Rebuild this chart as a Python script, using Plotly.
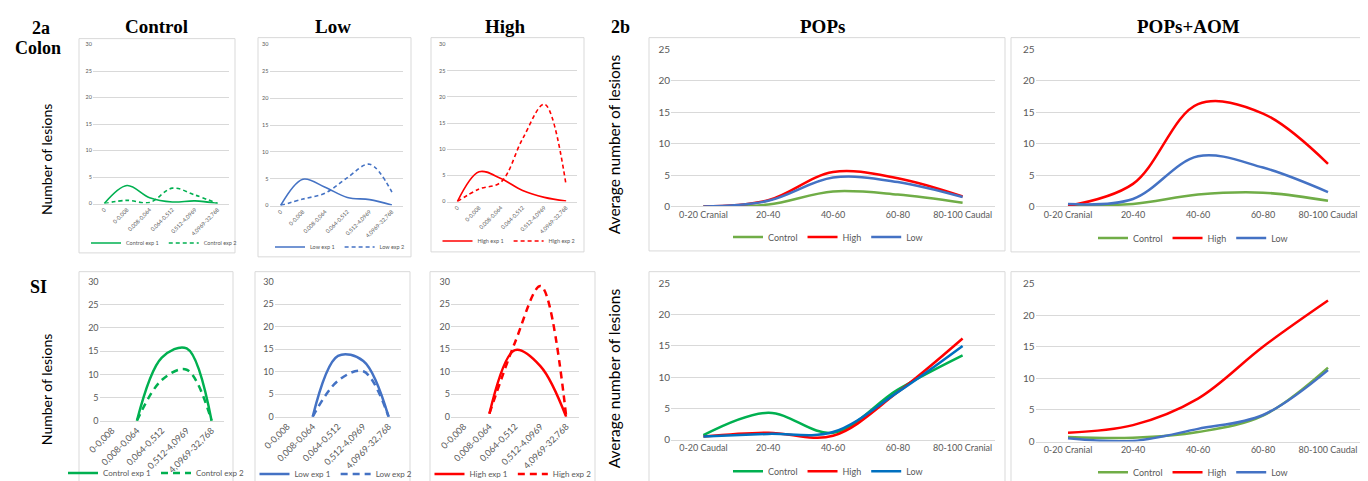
import plotly.graph_objects as go

W, H = 1368, 481

# ---------------- data ----------------
colon_cats = ["0", "0-0,008", "0,008-0,064", "0,064-0,512", "0,512-4,0969", "4,0969-32,768"]
si_cats = ["0-0,008", "0,008-0,064", "0,064-0,512", "0,512-4,0969", "4,0969-32,768"]
seg_cats_cranial_first = ["0-20 Cranial", "20-40", "40-60", "60-80", "80-100 Caudal"]
seg_cats_caudal_first = ["0-20 Caudal", "20-40", "40-60", "60-80", "80-100 Cranial"]

colon_control_exp1 = [0, 3.4, 1.1, 0.3, 0.5, 0]
colon_control_exp2 = [0, 0.6, 0.2, 2.9, 1.6, 0]
colon_low_exp1 = [0, 4.9, 3.4, 1.5, 1.1, 0.1]
colon_low_exp2 = [0, 1.2, 2.3, 5.2, 7.7, 2.5]
colon_high_exp1 = [0, 5.7, 4.4, 2.1, 0.8, 0.1]
colon_high_exp2 = [0, 2.4, 3.7, 12.0, 18.6, 3.1]

si_control_exp1 = [None, 0, 13.6, 15.6, 0]
si_control_exp2 = [None, 0, 8.8, 11.0, 0]
si_low_exp1 = [None, 0, 13.5, 12.4, 0]
si_low_exp2 = [None, 0, 8, 10.1, 0]
si_high_exp1 = [None, 0.7, 14.8, 11.2, 0]
si_high_exp2 = [None, 0.7, 16.5, 29.0, 0.1]

pops_colon_control = [0, 0.3, 2.4, 1.9, 0.6]
pops_colon_high = [0, 1.0, 5.5, 4.5, 1.6]
pops_colon_low = [0, 0.9, 4.6, 3.9, 1.5]

aom_colon_control = [0.2, 0.4, 1.9, 2.2, 0.9]
aom_colon_high = [0.1, 3.6, 16.3, 14.8, 6.8]
aom_colon_low = [0.4, 1.2, 8.0, 6.2, 2.3]

pops_si_control = [0.7, 4.3, 1.1, 8.0, 13.5]
pops_si_high = [0.5, 1.1, 0.6, 7.6, 16.2]
pops_si_low = [0.5, 0.9, 1.2, 7.6, 15.0]

aom_si_control = [0.7, 0.6, 1.5, 4.1, 11.7]
aom_si_high = [1.4, 2.6, 6.8, 15.0, 22.3]
aom_si_low = [0.5, 0.1, 2.0, 4.2, 11.3]

# ---------------- styling ----------------
GREEN = "#00B050"
GREEN2 = "#70AD47"
BLUE = "#4472C4"
BLUE2 = "#0070C0"
RED = "#FF0000"
TICK = "#595959"
GRID = "#D9D9D9"
FONT = "Lato, 'Liberation Sans', sans-serif"
SERIF = "'Liberation Serif', 'DejaVu Serif', serif"


def fx(x):
    return x / W


def fy(y):
    return 1 - y / H


panels = [
    dict(l=85, r=221, y0=198, yt=37, ymax=30, cats=colon_cats,
         series=[("Control exp 1", colon_control_exp1, GREEN, "solid"),
                 ("Control exp 2", colon_control_exp2, GREEN, "4px,3px")],
         lw=1.6, leg=(156, 238), box=(71, 31, 227, 248), tf=5.5, ang=-45, lf=5.5),
    dict(l=261.5, r=395, y0=200, yt=37, ymax=30, cats=colon_cats,
         series=[("Low exp 1", colon_low_exp1, BLUE, "solid"),
                 ("Low exp 2", colon_low_exp2, BLUE, "4px,3px")],
         lw=1.6, leg=(332, 242), box=(250, 30, 403, 252), tf=5.5, ang=-45, lf=5.5),
    dict(l=438.5, r=569, y0=196, yt=37, ymax=30, cats=colon_cats,
         series=[("High exp 1", colon_high_exp1, RED, "solid"),
                 ("High exp 2", colon_high_exp2, RED, "4px,3px")],
         lw=1.6, leg=(501, 236), box=(423, 30, 576, 247), tf=5.5, ang=-45, lf=5.5),
    dict(l=91.6, r=216, y0=418, yt=277, ymax=30, cats=si_cats,
         series=[("Control exp 1", si_control_exp1, GREEN, "solid"),
                 ("Control exp 2", si_control_exp2, GREEN, "7px,5px")],
         lw=2.5, leg=(148, 471), box=(71, 267, 225, 481), tf=9, ang=-45, lf=8),
    dict(l=266.7, r=393.3, y0=414, yt=277, ymax=30, cats=si_cats,
         series=[("Low exp 1", si_low_exp1, BLUE, "solid"),
                 ("Low exp 2", si_low_exp2, BLUE, "7px,5px")],
         lw=2.5, leg=(328, 472), box=(247, 267, 402, 481), tf=9, ang=-45, lf=8),
    dict(l=443, r=571, y0=414, yt=277, ymax=30, cats=si_cats,
         series=[("High exp 1", si_high_exp1, RED, "solid"),
                 ("High exp 2", si_high_exp2, RED, "7px,5px")],
         lw=2.5, leg=(505, 472), box=(422, 267, 587, 481), tf=9, ang=-45, lf=8),
    dict(l=663, r=987, y0=201, yt=42, ymax=25, cats=seg_cats_cranial_first,
         series=[("Control", pops_colon_control, GREEN2, "solid"),
                 ("High", pops_colon_high, RED, "solid"),
                 ("Low", pops_colon_low, BLUE, "solid")],
         lw=2.5, leg=(820, 232), box=(641, 30, 997, 246), tf=9, ang=0, lf=9),
    dict(l=1027.5, r=1352.5, y0=201, yt=42, ymax=25, cats=seg_cats_cranial_first,
         series=[("Control", aom_colon_control, GREEN2, "solid"),
                 ("High", aom_colon_high, RED, "solid"),
                 ("Low", aom_colon_low, BLUE, "solid")],
         lw=2.5, leg=(1185, 233), box=(1003, 30, 1364, 247), tf=9, ang=0, lf=9),
    dict(l=663, r=987, y0=437, yt=279, ymax=25, cats=seg_cats_caudal_first,
         series=[("Control", pops_si_control, GREEN, "solid"),
                 ("High", pops_si_high, RED, "solid"),
                 ("Low", pops_si_low, BLUE2, "solid")],
         lw=2.5, leg=(820, 469), box=(641, 267, 997, 481), tf=9, ang=0, lf=9),
    dict(l=1027.5, r=1352.5, y0=439, yt=279, ymax=25, cats=seg_cats_cranial_first,
         series=[("Control", aom_si_control, GREEN2, "solid"),
                 ("High", aom_si_high, RED, "solid"),
                 ("Low", aom_si_low, BLUE, "solid")],
         lw=2.5, leg=(1185, 470), box=(1003, 267, 1364, 481), tf=9, ang=0, lf=9),
]

fig = go.Figure()
layout = dict(width=W, height=H, margin=dict(l=0, r=0, t=0, b=0),
              paper_bgcolor="white", plot_bgcolor="white", showlegend=True,
              font=dict(family=FONT, color=TICK))
shapes = []

for i, p in enumerate(panels, start=1):
    xa = "x" if i == 1 else f"x{i}"
    ya = "y" if i == 1 else f"y{i}"
    lg = "legend" if i == 1 else f"legend{i}"
    for name, vals, col, dash in p["series"]:
        fig.add_trace(go.Scatter(
            x=p["cats"], y=vals, name=name, mode="lines",
            line=dict(color=col, width=p["lw"], dash=dash, shape="spline", smoothing=1.0),
            xaxis=xa, yaxis=ya, legend=lg, hoverinfo="skip"))
    n = len(p["cats"])
    layout["xaxis" if i == 1 else f"xaxis{i}"] = dict(
        domain=[fx(p["l"]), fx(p["r"])], anchor=ya, type="category",
        categoryorder="array", categoryarray=p["cats"],
        range=[-0.5, n - 0.5], showgrid=False, zeroline=False,
        showline=True, linecolor=GRID, linewidth=1, ticks="",
        tickangle=p["ang"], tickfont=dict(family=FONT, size=p["tf"], color=TICK),
        automargin=False, fixedrange=True)
    layout["yaxis" if i == 1 else f"yaxis{i}"] = dict(
        domain=[fy(p["y0"]), fy(p["yt"])], anchor=xa, range=[0, p["ymax"]],
        dtick=5, tick0=0, showgrid=True, gridcolor=GRID, gridwidth=1,
        zeroline=False, showline=False, ticks="",
        tickfont=dict(family=FONT, size=p["tf"] + (1 if p["ang"] == 0 else 0), color=TICK),
        automargin=False, fixedrange=True)
    layout[lg] = dict(
        x=fx(p["leg"][0]), y=fy(p["leg"][1]), xanchor="center", yanchor="middle",
        orientation="h", bgcolor="rgba(0,0,0,0)", borderwidth=0,
        font=dict(family=FONT, size=p["lf"], color=TICK),
        itemwidth=30, tracegroupgap=0)
    bx = p["box"]
    shapes.append(dict(type="rect", xref="paper", yref="paper",
                       x0=fx(bx[0]), x1=fx(bx[2]), y0=fy(bx[3]), y1=fy(bx[1]),
                       line=dict(color=GRID, width=1), fillcolor="rgba(0,0,0,0)",
                       layer="below"))

layout["shapes"] = shapes

ann = []


def add_text(txt, x, y, size, family=SERIF, bold=True, angle=0, color="black"):
    ann.append(dict(text=f"<b>{txt}</b>" if bold else txt, x=fx(x), y=fy(y),
                    xref="paper", yref="paper", showarrow=False,
                    xanchor="center", yanchor="middle", textangle=angle,
                    font=dict(family=family, size=size, color=color)))


add_text("2a", 33, 20, 18)
add_text("Colon", 30, 40, 18)
add_text("Control", 148, 19, 19)
add_text("Low", 325, 19, 19)
add_text("High", 497, 19, 19)
add_text("2b", 612, 19, 18)
add_text("POPs", 815, 19, 19)
add_text("POPs+AOM", 1180, 19, 19)
add_text("SI", 30, 283, 18)
add_text("Number of lesions", 38, 154, 14, family=FONT, bold=False, angle=-90, color="black")
add_text("Number of lesions", 38, 387, 14, family=FONT, bold=False, angle=-90, color="black")
add_text("Average number of lesions", 606, 138, 15.5, family=FONT, bold=False, angle=-90, color="black")
add_text("Average number of lesions", 606, 375, 15.5, family=FONT, bold=False, angle=-90, color="black")

layout["annotations"] = ann
fig.update_layout(**layout)
fig.write_html("out.html")
